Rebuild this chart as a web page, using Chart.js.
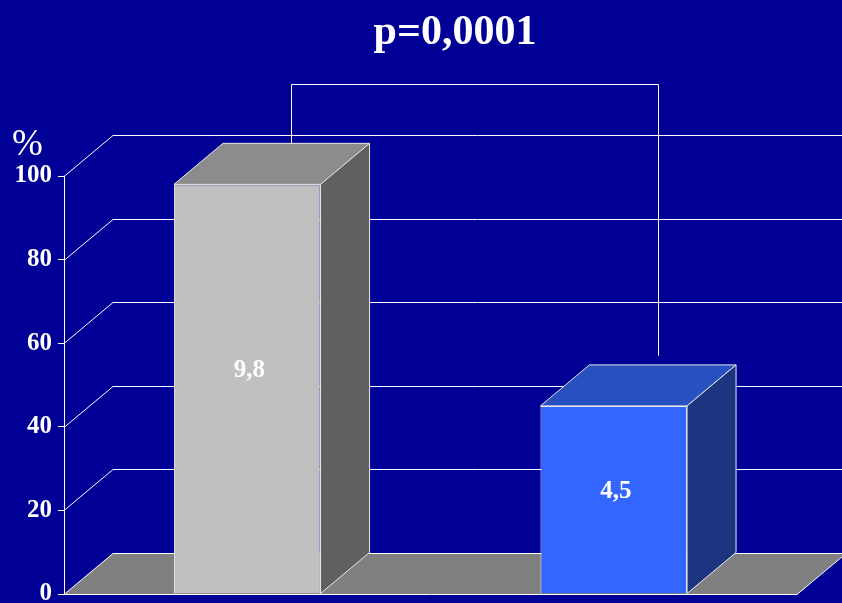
<!DOCTYPE html>
<html>
<head>
<meta charset="utf-8">
<script src="https://cdn.jsdelivr.net/npm/chart.js@4.4.1/dist/chart.umd.min.js"></script>
<style>
html, body { margin: 0; padding: 0; background: #000096; }
#wrap { width: 842px; height: 603px; }
</style>
</head>
<body>
<div id="wrap"><canvas id="barChart"></canvas></div>
<script>
document.addEventListener("DOMContentLoaded", function () {

/* DATA */

const groups = ['A', 'B'];
const values = [9.8, 4.5];
const yTickLabels = ['0', '20', '40', '60', '80', '100'];
const pText = 'p=0,0001';
const unitText = '%';
const bracketTop = 12.2;     // in axis units
const bracketRightEnd = 5.7; // in axis units

/* 3D look */

const DX = 49, DY = -41;
const frontColors = ['#c0c0c0', '#3366ff'];
const topColors = ['#8c8c8c', '#2850c0'];
const sideColors = ['#606060', '#1c3580'];
const serif = "'Liberation Serif', 'Times New Roman', serif";

function poly(ctx, pts, fill, stroke) {
  ctx.beginPath();
  ctx.moveTo(pts[0][0], pts[0][1]);
  for (let i = 1; i < pts.length; i++) ctx.lineTo(pts[i][0], pts[i][1]);
  ctx.closePath();
  if (fill) { ctx.fillStyle = fill; ctx.fill(); }
  if (stroke) { ctx.strokeStyle = stroke; ctx.lineWidth = 1; ctx.stroke(); }
}

function line(ctx, pts) {
  ctx.beginPath();
  ctx.moveTo(pts[0][0], pts[0][1]);
  for (let i = 1; i < pts.length; i++) ctx.lineTo(pts[i][0], pts[i][1]);
  ctx.strokeStyle = '#ffffff';
  ctx.lineWidth = 1;
  ctx.stroke();
}

const box3d = {
  id: 'box3d',

  beforeDraw(chart) {
    const ctx = chart.ctx;
    ctx.save();
    ctx.fillStyle = '#000096';
    ctx.fillRect(0, 0, chart.width, chart.height);
    ctx.restore();
  },

  beforeDatasetsDraw(chart) {
    const ctx = chart.ctx;
    const a = chart.chartArea;
    const y = chart.scales.y;
    ctx.save();

    // left wall and back wall grid
    y.ticks.forEach(function (t) {
      const py = Math.round(y.getPixelForValue(t.value)) + 0.5;
      if (t.value === 0) return;
      line(ctx, [[a.left, py], [a.left + DX, py + DY], [chart.width, py + DY]]);
    });

    // floor
    const b = Math.round(y.getPixelForValue(0)) + 0.5;
    poly(ctx, [[a.left, b], [a.right, b], [a.right + DX, b + DY], [a.left + DX, b + DY]], '#808080', '#ffffff');

    // significance bracket
    const meta = chart.getDatasetMeta(0);
    const x0 = Math.round(meta.data[0].x + DX * 0.9) + 0.5;
    const x1 = Math.round(meta.data[1].x + DX * 0.9) + 0.5;
    const yt = Math.round(y.getPixelForValue(bracketTop)) + 0.5;
    const y0 = y.getPixelForValue(values[0]) + DY;
    const y1 = y.getPixelForValue(bracketRightEnd);
    line(ctx, [[x0, y0], [x0, yt], [x1, yt], [x1, y1]]);

    ctx.restore();
  },

  afterDatasetsDraw(chart) {
    const ctx = chart.ctx;
    const y = chart.scales.y;
    const meta = chart.getDatasetMeta(0);
    ctx.save();

    meta.data.forEach(function (bar, i) {
      const l = bar.x - bar.width / 2, r = bar.x + bar.width / 2;
      const t = bar.y, base = bar.base;
      poly(ctx, [[l, t], [r, t], [r + DX, t + DY], [l + DX, t + DY]], topColors[i], '#e8e8e8');
      poly(ctx, [[r, t], [r, base], [r + DX, base + DY], [r + DX, t + DY]], sideColors[i], '#e8e8e8');

      ctx.fillStyle = '#ffffff';
      ctx.font = 'bold 25px ' + serif;
      ctx.textAlign = 'center';
      ctx.textBaseline = 'middle';
      ctx.fillText(String(values[i]).replace('.', ','), bar.x + 2, y.getPixelForValue(values[i] * 0.545));
    });

    // title and unit
    const a = chart.chartArea;
    ctx.fillStyle = '#ffffff';
    ctx.textAlign = 'center';
    ctx.textBaseline = 'alphabetic';
    ctx.font = 'bold 42px ' + serif;
    ctx.fillText(pText, (a.left + a.right + DX) / 2, 44);
    ctx.textAlign = 'left';
    ctx.font = '37px ' + serif;
    ctx.fillText(unitText, 12, 155);

    ctx.restore();
  }
};

const ctx = document.getElementById('barChart');

new Chart(ctx, {

type: 'bar',

data: {

labels: groups,

datasets: [{

data: values,

backgroundColor: frontColors,

borderColor: '#e8e8e8',

borderWidth: 1,

barPercentage: 0.4,

categoryPercentage: 1

}]

},

options: {

responsive: true,

maintainAspectRatio: false,

animation: false,

layout: {
padding: { top: 176, right: 45, bottom: 9, left: 0 }
},

plugins: {

legend: { display: false },

tooltip: { enabled: false }

},

scales: {

x: { display: false },

y: {
min: 0,
max: 10,
afterFit: function (scale) {
scale.width = 64;
scale.paddingTop = 0;
scale.paddingBottom = 0;
},
ticks: {
stepSize: 2,
padding: 6,
color: '#ffffff',
font: { family: serif, size: 25, weight: 'bold' },
callback: function (v, i) { return yTickLabels[i]; }
},
grid: {
drawOnChartArea: false,
tickLength: 6,
color: '#ffffff'
},
border: { display: true, color: '#ffffff', width: 1 }
}

}

},

plugins: [box3d]

});

});
</script>
</body>
</html>
